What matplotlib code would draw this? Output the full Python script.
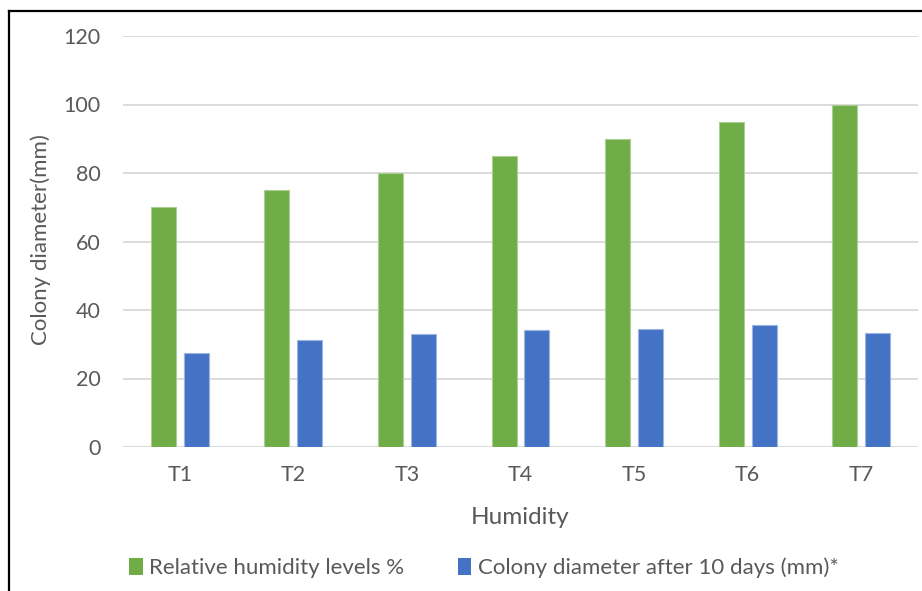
import matplotlib.pyplot as plt
import numpy as np
from matplotlib.lines import Line2D
from matplotlib.patches import Patch

plt.rcParams['font.family'] = ['Lato', 'DejaVu Sans']

# Data
treatments = ['T1', 'T2', 'T3', 'T4', 'T5', 'T6', 'T7']
humidity = [70, 75, 80, 85, 90, 95, 100]
colony_diameter = [27.4, 31.1, 33.0, 34.2, 34.5, 35.7, 33.4]

GREEN = '#70AD47'
BLUE = '#4472C4'
TEXT = '#595959'

fig = plt.figure(figsize=(9.22, 5.91), dpi=100)
ax = fig.add_axes([123 / 922, 1 - 447 / 591, 795 / 922, 411 / 591])

x = np.arange(len(treatments))
w = 0.22
off = 0.145
ax.bar(x - off, humidity, w, color=GREEN, edgecolor='#A9CF94', linewidth=0.8, zorder=3,
       label='Relative humidity levels %')
ax.bar(x + off, colony_diameter, w, color=BLUE, edgecolor='#9DB5E3', linewidth=0.8, zorder=3,
       label='Colony diameter after 10 days (mm)*')

ax.set_xlim(-0.5, len(treatments) - 0.5)
ax.set_ylim(0, 120)
ax.set_yticks(range(0, 121, 20))
ax.set_xticks(x)
ax.set_xticklabels(treatments)
ax.grid(axis='y', color='#D9D9D9', linewidth=1.3, zorder=0)
for s in ax.spines.values():
    s.set_visible(False)
ax.tick_params(axis='both', length=0, labelsize=15.5, labelcolor=TEXT)
ax.tick_params(axis='y', pad=16)
ax.tick_params(axis='x', pad=13)

fig.text(41 / 922, 1 - 240 / 591, 'Colony diameter(mm)', rotation=90, ha='center', va='center',
         fontsize=16, color=TEXT)
fig.text(520 / 922, 1 - 518 / 591, 'Humidity', ha='center', va='center', fontsize=17.5, color=TEXT)

handles = [Patch(facecolor=GREEN), Patch(facecolor=BLUE)]
fig.legend(handles, ['Relative humidity levels %', 'Colony diameter after 10 days (mm)*'],
           loc='center', bbox_to_anchor=(484 / 922, 1 - 568 / 591), ncol=2, frameon=False,
           fontsize=16, labelcolor=TEXT, handlelength=0.6, handleheight=0.8,
           handletextpad=0.3, columnspacing=2.4)

# outer frame (only left and top edges visible in the crop)
fig.add_artist(Line2D([8.5 / 922, 8.5 / 922], [0, 1 - 10.5 / 591], color='black', linewidth=1.6))
fig.add_artist(Line2D([8.5 / 922, 1], [1 - 10.5 / 591, 1 - 10.5 / 591], color='black', linewidth=1.6))

fig.savefig('out.png', dpi=100)
